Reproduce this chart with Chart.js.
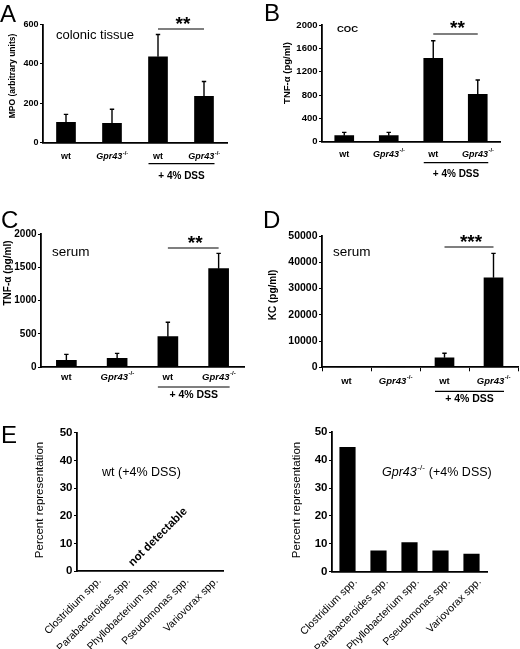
<!DOCTYPE html>
<html>
<head>
<meta charset="utf-8">
<script src="https://cdn.jsdelivr.net/npm/chart.js@4.4.1/dist/chart.umd.min.js"></script>
<style>
  body { margin: 0; background: #fff; }
  #fig { position: relative; width: 520px; height: 649px; overflow: hidden; }
  #fig canvas { position: absolute; }
</style>
</head>
<body>
<div id="fig">
  <canvas id="cA"></canvas>
  <canvas id="cB"></canvas>
  <canvas id="cC"></canvas>
  <canvas id="cD"></canvas>
  <canvas id="cE1"></canvas>
  <canvas id="cE2"></canvas>
</div>
<script>
const FAM = '"Liberation Sans", Arial, sans-serif';

// groups on the x axis of A-D
const genotypes = ['wt', 'Gpr43', 'wt', 'Gpr43'];

// A: MPO in colonic tissue
const mpoMean = [103, 98, 436, 235];
const mpoSem = [41, 72, 113, 76];
const mpoTicks = [0, 200, 400, 600];

// B: TNF-a, COC
const cocTnfMean = [103, 103, 1429, 812];
const cocTnfSem = [57, 57, 302, 245];
const cocTnfTicks = [0, 400, 800, 1200, 1600, 2000];

// C: TNF-a, serum
const serumTnfMean = [101, 131, 457, 1482];
const serumTnfSem = [90, 75, 217, 231];
const serumTnfTicks = [0, 500, 1000, 1500, 2000];

// D: KC, serum
const serumKcMean = [120, 300, 3650, 34100];
const serumKcSem = [0, 0, 1680, 9300];
const serumKcTicks = [0, 10000, 20000, 30000, 40000, 50000];

// E: bacterial species
const species = ['Clostridium spp.', 'Parabacteroides spp.', 'Phyllobacterium spp.', 'Pseudomonas spp.', 'Variovorax spp.'];
const wtPercent = [null, null, null, null, null];
const koPercent = [44.6, 7.5, 10.4, 7.5, 6.3];
const percentTicks = [0, 10, 20, 30, 40, 50];

function txt(ctx, s, x, y, font, align, base) {
  ctx.font = font;
  ctx.textAlign = align || 'center';
  ctx.textBaseline = base || 'middle';
  ctx.fillText(s, x, y);
}

// "Gpr43" in italics followed by a raised -/-
function gprLabel(ctx, cx, y, size, bold, align) {
  const w = bold ? 'bold ' : '';
  ctx.font = 'italic ' + w + size + 'px ' + FAM;
  const w1 = ctx.measureText('Gpr43').width;
  ctx.font = w + (size * 0.65) + 'px ' + FAM;
  const w2 = ctx.measureText('-/-').width;
  const x0 = align === 'left' ? cx : cx - (w1 + w2) / 2;
  txt(ctx, 'Gpr43', x0, y, 'italic ' + w + size + 'px ' + FAM, 'left');
  txt(ctx, '-/-', x0 + w1 + 0.5, y - size * 0.38, w + (size * 0.65) + 'px ' + FAM, 'left');
  return x0 + w1 + w2;
}

function deco(p) {
  return {
    id: 'deco',
    afterDraw(chart) {
      const ctx = chart.ctx, xs = chart.scales.x, ys = chart.scales.y, ca = chart.chartArea;
      const bx = p.box[0], by = p.box[1];
      const X = v => v - bx, Y = v => v - by;
      ctx.save();
      ctx.fillStyle = '#000';
      ctx.strokeStyle = '#000';

      // panel letter
      if (p.letter) txt(ctx, p.letter[0], X(p.letter[1]), Y(p.letter[2]), '24px ' + FAM, 'left', 'alphabetic');

      // error bars (upward only)
      if (p.sem) {
        const meta = chart.getDatasetMeta(0);
        ctx.lineWidth = 1.4;
        meta.data.forEach((bar, i) => {
          if (!p.sem[i]) return;
          const top = ys.getPixelForValue(p.mean[i] + p.sem[i]);
          ctx.beginPath();
          ctx.moveTo(bar.x, bar.y);
          ctx.lineTo(bar.x, top);
          ctx.moveTo(bar.x - 2.2, top);
          ctx.lineTo(bar.x + 2.2, top);
          ctx.stroke();
        });
      }

      // y title
      ctx.save();
      ctx.translate(X(p.yTitle[1]), Y(p.yTitle[2]));
      ctx.rotate(-Math.PI / 2);
      txt(ctx, p.yTitle[0], 0, 0, p.yTitle[3] + ' ' + FAM);
      ctx.restore();

      // inner title
      if (p.title) {
        const t = p.title;
        if (t.gpr) {
          const xe = gprLabel(ctx, X(t.x), Y(t.y), 12.5, false, 'left');
          txt(ctx, ' (+4% DSS)', xe + 1, Y(t.y), '12.5px ' + FAM, 'left');
        } else {
          txt(ctx, t.text, X(t.x), Y(t.y), t.font + ' ' + FAM, 'left');
        }
      }

      // genotype labels, bracket and DSS label
      if (p.lab) {
        const ly = ca.bottom + p.lab[0];
        p.labels.forEach((g, i) => {
          const cx = xs.getPixelForValue(i);
          if (g === 'wt') txt(ctx, 'wt', cx, ly, 'bold ' + p.labSize + 'px ' + FAM);
          else gprLabel(ctx, cx, ly, p.labSize, true);
        });
        const x1 = xs.getPixelForValue(2) - p.barW / 2;
        const x2 = xs.getPixelForValue(3) + p.barW / 2 + 1;
        ctx.lineWidth = 1.2;
        ctx.beginPath();
        ctx.moveTo(x1, ca.bottom + p.lab[1]);
        ctx.lineTo(x2, ca.bottom + p.lab[1]);
        ctx.stroke();
        txt(ctx, '+ 4% DSS', (x1 + x2) / 2, ca.bottom + p.lab[2], 'bold ' + (p.labSize + 1) + 'px ' + FAM);
      }

      // significance
      if (p.sig) {
        const s1 = xs.getPixelForValue(2), s2 = xs.getPixelForValue(3);
        ctx.lineWidth = 1.2;
        ctx.beginPath();
        ctx.moveTo(s1, ca.top + p.sig[1]);
        ctx.lineTo(s2, ca.top + p.sig[1]);
        ctx.stroke();
        txt(ctx, p.sig[0], (s1 + s2) / 2 + 2, ca.top + p.sig[2] + 4, 'bold 19px ' + FAM);
      }

      // rotated note
      if (p.note) {
        ctx.save();
        ctx.translate(X(p.note[1]), Y(p.note[2]));
        ctx.rotate(-Math.PI / 4);
        txt(ctx, p.note[0], 0, 0, 'bold 11.5px ' + FAM);
        ctx.restore();
      }
      ctx.restore();
    }
  };
}

function makePanel(p) {
  const cv = document.getElementById(p.id);
  const [bx, by, bw, bh] = p.box;
  const [al, at, ar, ab] = p.area;
  cv.width = bw; cv.height = bh;
  cv.style.left = bx + 'px'; cv.style.top = by + 'px';
  cv.style.width = bw + 'px'; cv.style.height = bh + 'px';
  const t = p.ticks;
  new Chart(cv, {
    type: 'bar',
    data: {
      labels: p.labels,
      datasets: [{ data: p.mean, backgroundColor: '#000', borderWidth: 0, barThickness: p.barW }]
    },
    options: {
      responsive: false,
      animation: false,
      layout: { padding: { left: 0, top: at - by, right: bx + bw - ar, bottom: 0 } },
      plugins: { legend: { display: false }, tooltip: { enabled: false } },
      scales: {
        x: {
          grid: { display: !!p.xTicks, drawOnChartArea: false, tickLength: 4, color: '#000', offset: true },
          border: { display: true, color: '#000', width: 1.8 },
          ticks: p.xLabels
            ? { display: true, autoSkip: false, minRotation: 45, maxRotation: 45, padding: 0, labelOffset: 8, color: '#000', font: { family: FAM, size: 10.5 } }
            : { display: false },
          afterFit: s => { s.height = by + bh - ab; }
        },
        y: {
          min: t[0], max: t[t.length - 1],
          grid: { display: true, drawOnChartArea: false, tickLength: 3, color: '#000' },
          border: { display: true, color: '#000', width: 1.8 },
          ticks: { stepSize: t[1] - t[0], padding: 1.5, color: '#000', callback: v => String(v),
                   font: { family: FAM, size: p.tickSize, weight: 'bold' } },
          afterFit: s => { s.width = al - bx; }
        }
      }
    },
    plugins: [deco(p)]
  });
}

const panels = [
  { id: 'cA', box: [0, 0, 260, 205], area: [43, 24.5, 227, 142.7], labels: genotypes, mean: mpoMean, sem: mpoSem, ticks: mpoTicks,
    barW: 19, tickSize: 9, labSize: 9, letter: ['A', 0, 22], yTitle: ['MPO (arbitrary units)', 13, 76, 'bold 8.5px'],
    title: { text: 'colonic tissue', x: 56, y: 35, font: '13px' }, lab: [14, 21, 34], sig: ['**', 4.5, -4] },
  { id: 'cB', box: [260, 0, 260, 205], area: [322, 25, 500, 141.7], labels: genotypes, mean: cocTnfMean, sem: cocTnfSem, ticks: cocTnfTicks,
    barW: 19, tickSize: 9.5, labSize: 9, letter: ['B', 264, 21], yTitle: ['TNF-α (pg/ml)', 287, 73, 'bold 9.5px'],
    title: { text: 'COC', x: 337, y: 29, font: 'bold 9.5px' }, lab: [12.5, 21, 33], sig: ['**', 9, -0.5] },
  { id: 'cC', box: [0, 205, 260, 200], area: [41, 234.3, 244, 367], labels: genotypes, mean: serumTnfMean, sem: serumTnfSem, ticks: serumTnfTicks,
    barW: 20, tickSize: 10, labSize: 9.5, letter: ['C', 1, 228], yTitle: ['TNF-α (pg/ml)', 8, 273, 'bold 10px'],
    title: { text: 'serum', x: 52, y: 252, font: '13.5px' }, lab: [10, 20, 28], sig: ['**', 13.7, 5.7] },
  { id: 'cD', box: [260, 205, 260, 200], area: [322, 236, 518, 367.3], labels: genotypes, mean: serumKcMean, sem: serumKcSem, ticks: serumKcTicks,
    barW: 19, tickSize: 10.5, labSize: 9.5, xTicks: true, letter: ['D', 263, 228], yTitle: ['KC (pg/ml)', 273, 295, 'bold 10px'],
    title: { text: 'serum', x: 333, y: 252, font: '13.5px' }, lab: [14, 24, 32], sig: ['***', 11, 3] },
  { id: 'cE1', box: [0, 405, 260, 244], area: [77, 432.7, 223, 571], labels: species, mean: wtPercent, ticks: percentTicks,
    barW: 15, tickSize: 11.5, xLabels: true, letter: ['E', 1, 443], yTitle: ['Percent representation', 40, 500, '11.5px'],
    title: { text: 'wt (+4% DSS)', x: 102, y: 473, font: '12.5px' }, note: ['not detectable', 158, 537] },
  { id: 'cE2', box: [260, 405, 260, 244], area: [332, 432.3, 487, 571.7], labels: species, mean: koPercent, ticks: percentTicks,
    barW: 15.5, tickSize: 11.5, xLabels: true, yTitle: ['Percent representation', 297, 500, '11.5px'],
    title: { gpr: true, x: 382, y: 473 } }
];

panels.forEach(makePanel);
</script>
</body>
</html>
